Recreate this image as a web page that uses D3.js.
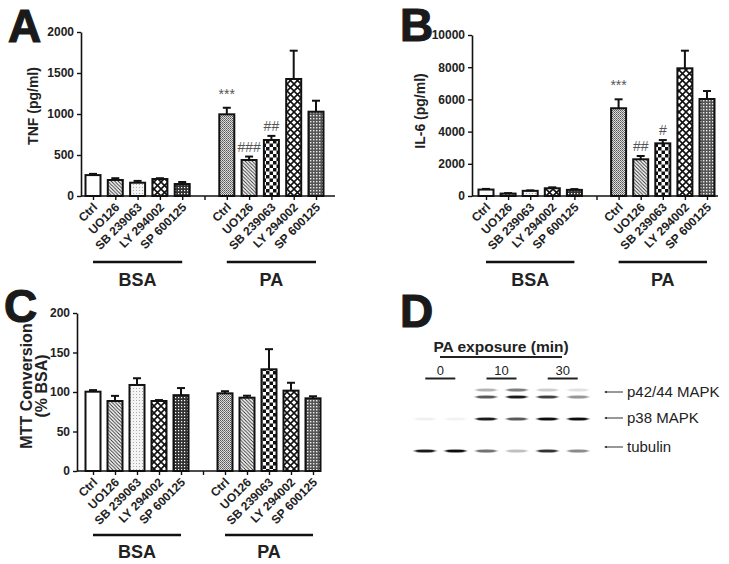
<!DOCTYPE html>
<html><head><meta charset="utf-8">
<script src="https://cdn.jsdelivr.net/npm/d3@7"></script>
<style>
html,body{margin:0;padding:0;background:#fff;}
svg{display:block;font-family:"Liberation Sans",Arial,Helvetica,sans-serif;}
</style></head>
<body>
<svg id="fig" width="729" height="564"></svg>
<script>
// ---------- DATA ----------
const categories = ["Ctrl","UO126","SB 239063","LY 294002","SP 600125"];
const groupNames = ["BSA","PA"];
const barPatterns = ["white","diag","dotsLight","cross","denseDark","grayStipple","diag","checker","cross","grid"];

const tnfMean = [255,195,162,207,146, 996,439,683,1427,1028];
const tnfErr  = [15,22,22,10,25, 80,42,50,345,134];
const tnfTicks = [0,500,1000,1500,2000];
const tnfMarks = ["","","","","", "***","###","##","",""];

const il6Mean = [400,150,320,480,380, 5450,2280,3270,7930,6025];
const il6Err  = [40,30,30,60,50, 555,205,205,1095,495];
const il6Ticks = [0,2000,4000,6000,8000,10000];
const il6Marks = ["","","","","", "***","##","#","",""];

const mttMean = [100.4,88.6,108.9,88.6,96, 98.3,92.8,128.7,101.7,92];
const mttErr  = [2,6.5,8.5,1.2,9, 2.7,2.5,25.5,10,2.6];
const mttTicks = [0,50,100,150,200];

// Western blot (panel D): band intensity per lane (0..1)
const blotLanes = ["0-1","0-2","10-1","10-2","30-1","30-2"];
const timePoints = ["0","10","30"];
const p42Upper = [0,0,0.3,0.55,0.2,0.12];
const p44Lower = [0,0,0.7,0.95,0.8,0.45];
const p38Band  = [0.06,0.05,0.95,0.7,1,1];
const tubulinBand = [0.95,1,0.6,0.25,0.85,0.5];
const blotLabels = ["p42/44 MAPK","p38 MAPK","tubulin"];

// ---------- SETUP ----------
const svg = d3.select("#fig");
const FONT = '"Liberation Sans",Arial,Helvetica,sans-serif';
const defs = svg.append("defs");

function pat(id, w, h, draw){
  const p = defs.append("pattern").attr("id", id).attr("patternUnits","userSpaceOnUse")
    .attr("width", w).attr("height", h);
  draw(p);
}
pat("white",4,4,p=>{p.append("rect").attr("width",4).attr("height",4).attr("fill","#fff");});
pat("diag",3.5,3.5,p=>{
  p.append("rect").attr("width",3.5).attr("height",3.5).attr("fill","#fff");
  p.append("path").attr("d","M-1,-1L4.5,4.5M-1,2.5L1,4.5M2.5,-1L4.5,1").attr("stroke","#333").attr("stroke-width",1);
});
pat("dotsLight",3,3,p=>{
  p.append("rect").attr("width",3).attr("height",3).attr("fill","#f4f4f4");
  p.append("rect").attr("x",1).attr("y",1).attr("width",1).attr("height",1).attr("fill","#aaa");
});
pat("cross",7,7,p=>{
  p.append("rect").attr("width",7).attr("height",7).attr("fill","#fff");
  p.append("path").attr("d","M0,0L7,7M7,0L0,7").attr("stroke","#111").attr("stroke-width",1.6);
});
pat("denseDark",3,3,p=>{
  p.append("rect").attr("width",3).attr("height",3).attr("fill","#333");
  p.append("rect").attr("x",1).attr("y",1).attr("width",1.2).attr("height",1.2).attr("fill","#fff");
});
pat("grayStipple",2,2,p=>{
  p.append("rect").attr("width",2).attr("height",2).attr("fill","#ddd");
  p.append("rect").attr("width",1).attr("height",1).attr("fill","#555");
  p.append("rect").attr("x",1).attr("y",1).attr("width",1).attr("height",1).attr("fill","#777");
});
pat("checker",7,7,p=>{
  p.append("rect").attr("width",7).attr("height",7).attr("fill","#fff");
  p.append("rect").attr("width",3.5).attr("height",3.5).attr("fill","#111");
  p.append("rect").attr("x",3.5).attr("y",3.5).attr("width",3.5).attr("height",3.5).attr("fill","#111");
});
pat("grid",3,3,p=>{
  p.append("rect").attr("width",3).attr("height",3).attr("fill","#555");
  p.append("rect").attr("x",1).attr("y",1).attr("width",1.4).attr("height",1.4).attr("fill","#eee");
});

const blur = defs.append("filter").attr("id","blur").attr("x","-20%").attr("y","-150%").attr("width","140%").attr("height","400%");
blur.append("feGaussianBlur").attr("stdDeviation","1.6 0.6");

// ---------- BAR PANEL ----------
function drawBarPanel(cfg){
  const g = svg.append("g");
  const y = d3.scaleLinear().domain([0, cfg.ticks[cfg.ticks.length-1]]).range([cfg.y0, cfg.yTop]);
  const slots = d3.range(11);
  const x = d3.scalePoint().domain(slots).range([cfg.firstX, cfg.lastX]);
  const slotOf = i => i < 5 ? i : i + 1;
  const bw = 15;

  // bars
  cfg.values.forEach((v,i)=>{
    const cx = x(slotOf(i));
    g.append("rect").attr("x", cx - bw/2).attr("y", y(v)).attr("width", bw).attr("height", y(0) - y(v))
      .attr("fill", `url(#${barPatterns[i]})`).attr("stroke","#111").attr("stroke-width",2);
    const top = y(v + cfg.errs[i]);
    g.append("line").attr("x1",cx).attr("x2",cx).attr("y1",y(v)).attr("y2",top).attr("stroke","#111").attr("stroke-width",2);
    g.append("line").attr("x1",cx-4).attr("x2",cx+4).attr("y1",top).attr("y2",top).attr("stroke","#111").attr("stroke-width",2);
    if (cfg.marks && cfg.marks[i]) {
      const isStar = cfg.marks[i].indexOf("*") >= 0;
      g.append("text").attr("x",cx).attr("y", top - (isStar ? 4 : 5)).attr("text-anchor","middle")
        .attr("font-size", 14).attr("fill","#555").attr("font-family",FONT)
        .attr("dy", isStar ? "-0.35em" : "0")
        .text(cfg.marks[i]);
    }
  });

  // y axis
  const ya = g.append("g").attr("transform",`translate(${cfg.axisX},0)`)
    .call(d3.axisLeft(y).tickValues(cfg.ticks).tickFormat(d3.format("d")).tickSize(4).tickSizeOuter(0).tickPadding(3));
  ya.select(".domain").attr("stroke","#111").attr("stroke-width",1.6);
  ya.selectAll(".tick line").attr("stroke","#111").attr("stroke-width",1.4);
  ya.selectAll(".tick text").attr("font-size",12).attr("font-weight","bold").attr("fill","#222").attr("font-family",FONT);

  // x axis
  g.append("line").attr("x1",cfg.axisX).attr("x2",cfg.axisEnd).attr("y1",y(0)).attr("y2",y(0))
    .attr("stroke","#111").attr("stroke-width",1.6);
  const xa = g.append("g").attr("transform",`translate(0,${y(0)})`)
    .call(d3.axisBottom(x).tickSize(4).tickFormat(""));
  xa.select(".domain").remove();
  xa.selectAll(".tick line").attr("stroke","#111").attr("stroke-width",1.4);

  // category labels
  cfg.values.forEach((v,i)=>{
    const cx = x(slotOf(i));
    g.append("text").attr("text-anchor","end")
      .attr("transform",`translate(${cx+5},${y(0)+12}) rotate(-45)`)
      .attr("font-size",12).attr("font-weight","bold").attr("fill","#222").attr("font-family",FONT)
      .text(categories[i % 5]);
  });

  // group lines & names
  groupNames.forEach((name,gi)=>{
    const a = x(slotOf(gi*5)), b = x(slotOf(gi*5+4));
    g.append("line").attr("x1",a).attr("x2",b).attr("y1",cfg.groupLineY).attr("y2",cfg.groupLineY)
      .attr("stroke","#111").attr("stroke-width",2.5);
    g.append("text").attr("x",(a+b)/2).attr("y",cfg.groupTextY).attr("text-anchor","middle")
      .attr("font-size",18).attr("font-weight","bold").attr("fill","#222").attr("font-family",FONT).text(name);
  });

  // y title
  const yc = cfg.yLabelY;
  cfg.yLabel.forEach((ln,k)=>{
    g.append("text").attr("transform",`translate(${cfg.yLabelX[k]},${yc}) rotate(-90)`)
      .attr("text-anchor","middle").attr("font-size",cfg.yLabelSize).attr("font-weight","bold")
      .attr("fill","#222").attr("font-family",FONT).text(ln);
  });

  // panel letter
  g.append("text").attr("x",cfg.letterX).attr("y",cfg.letterY).attr("font-size",46).attr("font-weight","bold")
    .attr("fill","#1a1a1a").attr("stroke","#1a1a1a").attr("stroke-width",1.2)
    .attr("font-family",FONT).text(cfg.letter);
}

drawBarPanel({values:tnfMean, errs:tnfErr, marks:tnfMarks, ticks:tnfTicks,
  y0:196, yTop:32, axisX:81, axisEnd:335, firstX:93, lastX:316,
  groupLineY:262, groupTextY:286, yLabel:["TNF (pg/ml)"], yLabelX:[38], yLabelY:106, yLabelSize:14,
  letter:"A", letterX:8, letterY:42});

drawBarPanel({values:il6Mean, errs:il6Err, marks:il6Marks, ticks:il6Ticks,
  y0:196, yTop:35, axisX:472, axisEnd:718, firstX:486, lastX:707,
  groupLineY:262, groupTextY:286, yLabel:["IL-6 (pg/ml)"], yLabelX:[425], yLabelY:111, yLabelSize:14,
  letter:"B", letterX:400, letterY:41});

drawBarPanel({values:mttMean, errs:mttErr, marks:null, ticks:mttTicks,
  y0:471, yTop:313, axisX:77, axisEnd:320, firstX:93, lastX:313,
  groupLineY:535, groupTextY:558, yLabel:["MTT Conversion","(% BSA)"], yLabelX:[32,47], yLabelY:386, yLabelSize:16,
  letter:"C", letterX:4, letterY:322});

// ---------- WESTERN BLOT (D) ----------
(function(){
  const g = svg.append("g");
  g.append("text").attr("x",400).attr("y",327).attr("font-size",46).attr("font-weight","bold")
    .attr("fill","#1a1a1a").attr("stroke","#1a1a1a").attr("stroke-width",1.2)
    .attr("font-family",FONT).text("D");

  const lx = d3.scalePoint().domain(blotLanes).range([425,578]);
  const bandW = 21;

  g.append("text").attr("x",501).attr("y",352).attr("text-anchor","middle").attr("font-size",15.5)
    .attr("font-weight","bold").attr("fill","#222").attr("font-family",FONT).text("PA exposure (min)");
  g.append("line").attr("x1",440).attr("x2",562).attr("y1",357).attr("y2",357).attr("stroke","#222").attr("stroke-width",2);

  timePoints.forEach((t,i)=>{
    const a = lx(blotLanes[2*i]), b = lx(blotLanes[2*i+1]);
    const m = (a+b)/2;
    g.append("text").attr("x",m).attr("y",375).attr("text-anchor","middle").attr("font-size",13)
      .attr("fill","#222").attr("font-family",FONT).text(t);
    g.append("line").attr("x1",m-15).attr("x2",m+15).attr("y1",378.5).attr("y2",378.5).attr("stroke","#222").attr("stroke-width",2);
  });

  const rows = [
    {vals:p42Upper, y:390},
    {vals:p44Lower, y:397},
    {vals:p38Band, y:419},
    {vals:tubulinBand, y:451}
  ];
  rows.forEach(r=>{
    blotLanes.forEach((ln,i)=>{
      const v = r.vals[i];
      if (v <= 0) return;
      g.append("ellipse").attr("cx",lx(ln)).attr("cy",r.y).attr("rx",bandW/2).attr("ry",1.6)
        .attr("fill","#111").attr("fill-opacity",v).attr("filter","url(#blur)");
    });
  });

  const labelY = [392,418,447];
  blotLabels.forEach((t,i)=>{
    const yy = labelY[i];
    g.append("line").attr("x1",605).attr("x2",623).attr("y1",yy).attr("y2",yy).attr("stroke","#333").attr("stroke-width",1);
    g.append("path").attr("d",`M604,${yy}l3,-1.3v2.6z`).attr("fill","#333");
    g.append("text").attr("x",627).attr("y",yy).attr("dy","0.36em").attr("font-size",15)
      .attr("fill","#222").attr("font-family",FONT).text(t);
  });
})();
</script>
</body></html>
